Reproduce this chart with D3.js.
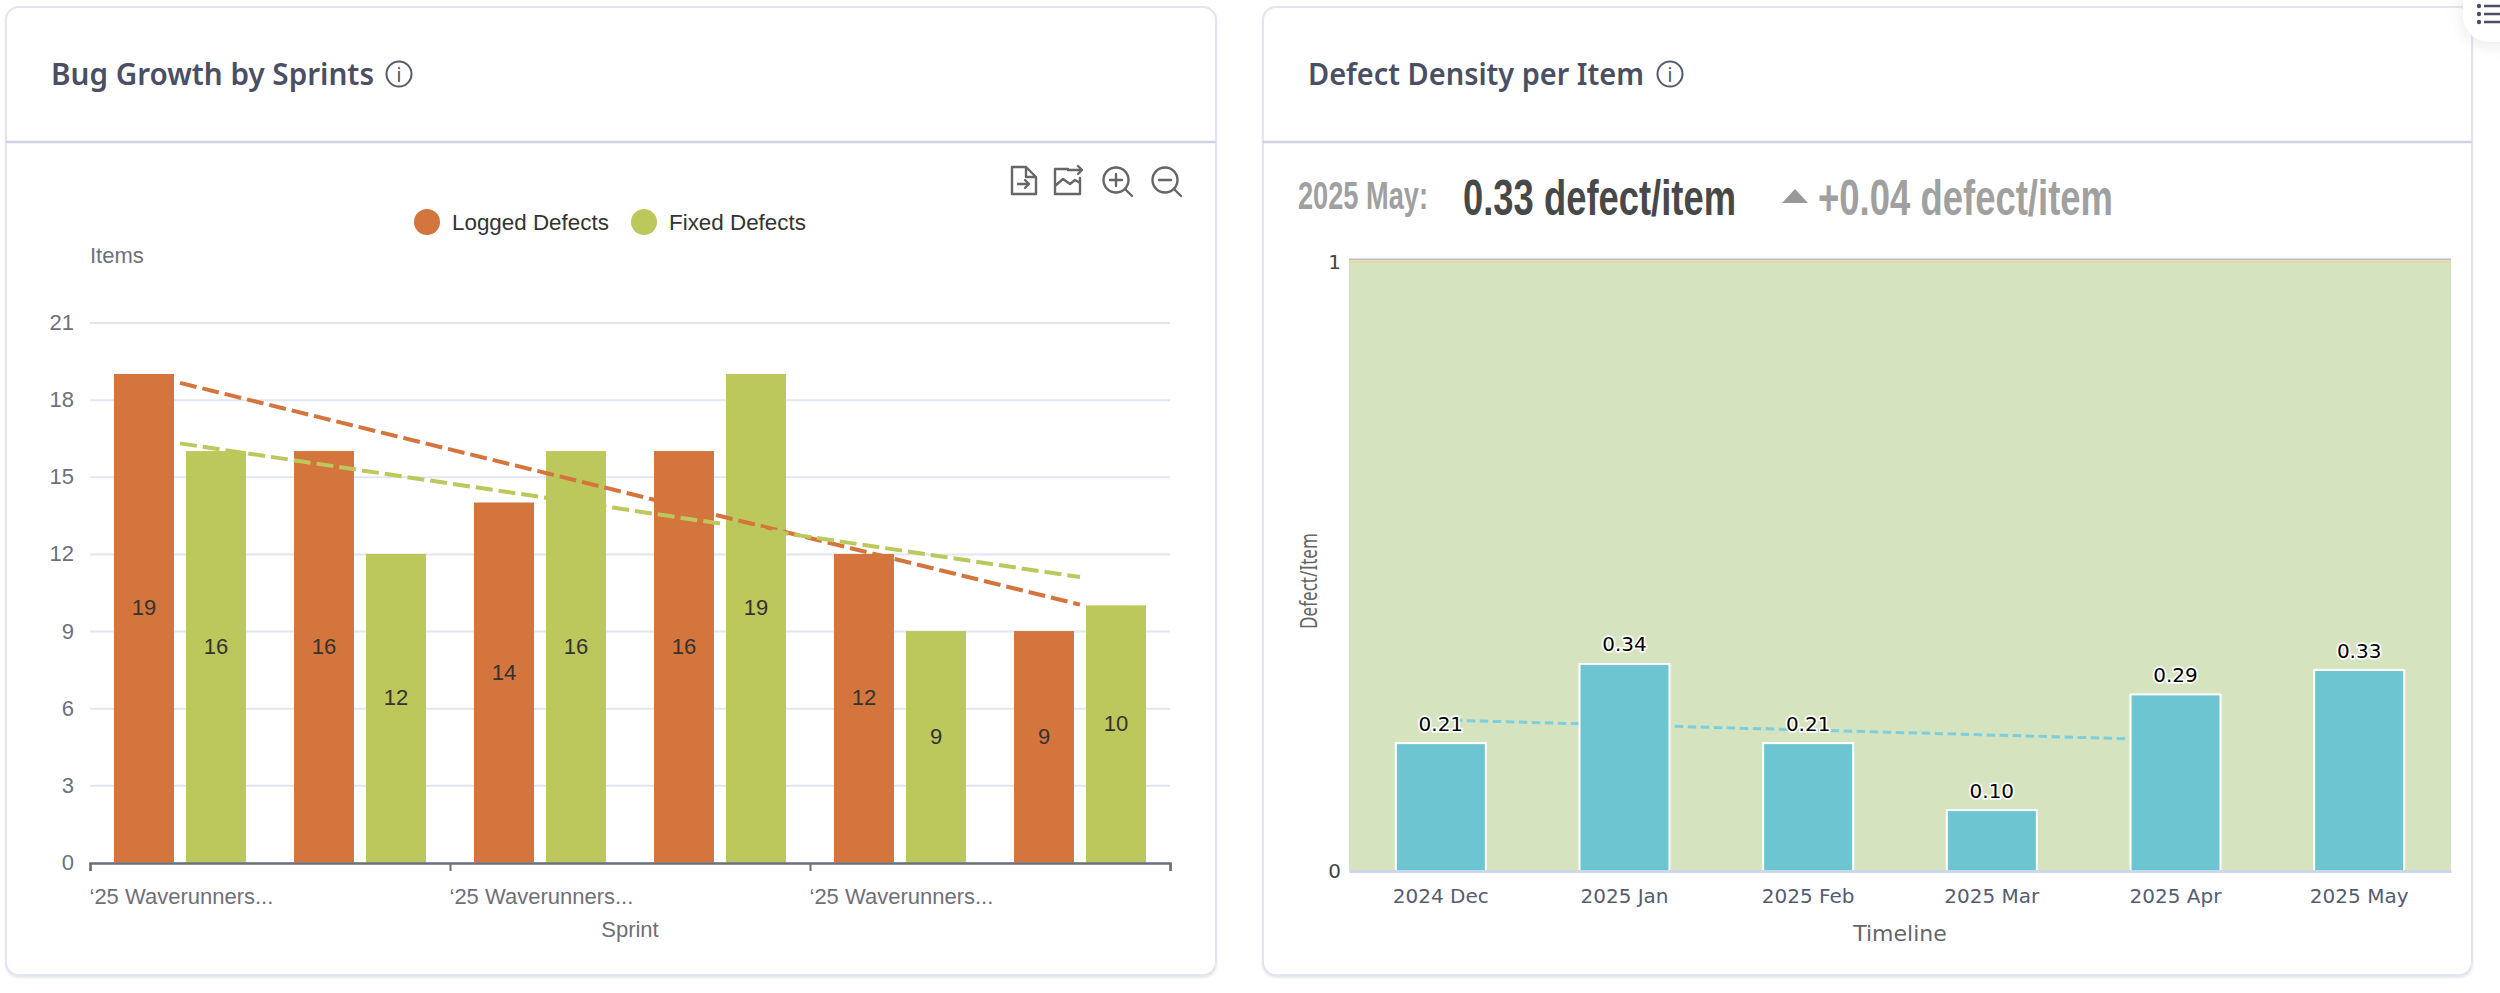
<!DOCTYPE html>
<html>
<head>
<meta charset="utf-8">
<script src="https://cdn.jsdelivr.net/npm/d3@7"></script>
<style>
	html, body { margin: 0; padding: 0; background: #fff; overflow: hidden; }
	svg { display: block; }
	.card { fill: #fff; stroke: #e3e6ee; stroke-width: 2; filter: drop-shadow(0 2px 1px rgba(200,205,220,0.45)); }
	.head { font-family: "Noto Sans", sans-serif; font-weight: 600; fill: #4a4f63; }
	.left-txt { font-family: "Liberation Sans", Arial, sans-serif; }
	.right-txt { font-family: "DejaVu Sans", sans-serif; }
	.narrow { font-family: "Liberation Sans Narrow", "Liberation Sans", sans-serif; }
</style>
</head>
<body>
<div id="container"></div>
<script>
	var WIDTH = 2500;
	var HEIGHT = 993;

	// left chart
	var sprintLabels = ["‘25 Waverunners...", "", "‘25 Waverunners...", "", "‘25 Waverunners...", ""];
	var loggedDefects = [19, 16, 14, 16, 12, 9];
	var fixedDefects = [16, 12, 16, 19, 9, 10];
	var loggedTrend = [18.65, 10.03];
	var fixedTrend = [16.3, 11.1];
	var itemTicks = [0, 3, 6, 9, 12, 15, 18, 21];
	var seriesNames = ["Logged Defects", "Fixed Defects"];

	// right chart
	var months = ["2024 Dec", "2025 Jan", "2025 Feb", "2025 Mar", "2025 Apr", "2025 May"];
	var density = [0.21, 0.34, 0.21, 0.10, 0.29, 0.33];
	var densityTrend = [0.248, 0.215];
	var densityTicks = [0, 1];

	var ORANGE = "#d4753d";
	var GREEN = "#bcc75c";
	var TEAL = "#6dc5d1";

	var svg = d3.select("#container").append("svg")
		.attr("width", WIDTH)
		.attr("height", HEIGHT);

	// ---- cards ----
	var drawCard = function(x, w, title, titleW, infoX){
		svg.append("rect").attr("class", "card")
			.attr("x", x).attr("y", 7).attr("width", w).attr("height", 968).attr("rx", 13);
		svg.append("line")
			.attr("x1", x).attr("x2", x + w).attr("y1", 142).attr("y2", 142)
			.style("stroke", "#cdd3e2").style("stroke-width", 2.5);
		svg.append("text").attr("class", "head")
			.attr("x", x + 45).attr("y", 85)
			.attr("textLength", titleW).attr("lengthAdjust", "spacingAndGlyphs")
			.style("font-size", "30px")
			.text(title);
		svg.append("circle")
			.attr("cx", infoX).attr("cy", 74).attr("r", 12.5)
			.style("fill", "none").style("stroke", "#555a6c").style("stroke-width", 2);
		svg.append("text").attr("class", "head")
			.attr("x", infoX).attr("y", 82).attr("text-anchor", "middle")
			.style("font-size", "19px").style("font-weight", 400)
			.text("i");
	};
	drawCard(6, 1210, "Bug Growth by Sprints", 323, 399);
	drawCard(1263, 1209, "Defect Density per Item", 336, 1670);

	// ---- left chart ----
	var left = svg.append("g").attr("class", "left-txt");
	var yL = d3.scaleLinear().domain([0, 21]).range([862.5, 322.5]);
	var xL = d3.scaleBand().domain(d3.range(sprintLabels.length)).range([90, 1170]);
	var xSeries = d3.scaleBand().domain(seriesNames).range([24, 156]).paddingInner(1 / 6);
	var xTicks = d3.scaleLinear().domain([0, sprintLabels.length]).range([90, 1170]);

	var gridAxis = left.append("g")
		.attr("transform", "translate(90,0)")
		.call(d3.axisLeft(yL).tickValues(itemTicks).tickSize(-1080).tickPadding(16));
	gridAxis.select(".domain").remove();
	gridAxis.selectAll("line").style("stroke", "#e2e6f1").style("stroke-width", 2);
	gridAxis.selectAll("text").style("font-size", "22px").style("fill", "#6e7079")
		.style("font-family", "Liberation Sans").attr("dy", "0.32em");

	var series = [
		{name: seriesNames[0], values: loggedDefects, color: ORANGE},
		{name: seriesNames[1], values: fixedDefects, color: GREEN}
	];
	series.forEach(function(s){
		var g = left.append("g");
		g.selectAll("rect").data(s.values).enter().append("rect")
			.attr("x", function(d, i){ return xL(i) + xSeries(s.name); })
			.attr("y", function(d){ return yL(d); })
			.attr("width", xSeries.bandwidth())
			.attr("height", function(d){ return yL(0) - yL(d); })
			.style("fill", s.color);
	});

	var bottomAxis = left.append("g")
		.attr("transform", "translate(0,863)")
		.call(d3.axisBottom(xTicks)
			.tickValues([0, 2, 4, 6])
			.tickSize(8)
			.tickPadding(17)
			.tickFormat(function(d){ return sprintLabels[d] || ""; }));
	bottomAxis.select(".domain").style("stroke", "#6e7079").style("stroke-width", 2.5);
	bottomAxis.selectAll("line").style("stroke", "#6e7079").style("stroke-width", 2);
	bottomAxis.selectAll("text").style("font-size", "22px").style("fill", "#6e7079")
		.style("font-family", "Liberation Sans").attr("text-anchor", "start").attr("dx", -1);

	// trend lines run between band centres
	var drawTrend = function(parent, scaleX, scaleY, pts, color, width, dash){
		parent.append("path")
			.attr("d", d3.line().x(function(d){ return scaleX(d[0]); }).y(function(d){ return scaleY(d[1]); })(pts))
			.style("fill", "none").style("stroke", color)
			.style("stroke-width", width).style("stroke-dasharray", dash);
	};
	var centerL = function(i){ return xL(i) + xL.bandwidth() / 2; };
	var lastL = sprintLabels.length - 1;
	drawTrend(left, centerL, yL, [[0, loggedTrend[0]], [lastL, loggedTrend[1]]], ORANGE, 4, "17 6");
	drawTrend(left, centerL, yL, [[0, fixedTrend[0]], [lastL, fixedTrend[1]]], GREEN, 4, "17 6");

	series.forEach(function(s){
		left.append("g").selectAll("text").data(s.values).enter().append("text")
			.attr("x", function(d, i){ return xL(i) + xSeries(s.name) + xSeries.bandwidth() / 2; })
			.attr("y", function(d){ return (yL(0) + yL(d)) / 2 - 3; })
			.attr("text-anchor", "middle")
			.style("font-size", "22px").style("fill", "#333")
			.text(function(d){ return d; });
	});

	// legend
	var legendX = [427, 644];
	seriesNames.forEach(function(name, i){
		left.append("circle")
			.attr("cx", legendX[i]).attr("cy", 222).attr("r", 13)
			.style("fill", series[i].color);
		left.append("text")
			.attr("x", legendX[i] + 25).attr("y", 230)
			.style("font-size", "22.4px").style("fill", "#333")
			.text(name);
	});

	left.append("text").attr("x", 90).attr("y", 263)
		.style("font-size", "22px").style("fill", "#6e7079").text("Items");
	left.append("text").attr("x", 630).attr("y", 937).attr("text-anchor", "middle")
		.style("font-size", "22px").style("fill", "#6e7079").text("Sprint");

	// toolbox icons
	var tools = svg.append("g")
		.style("fill", "none").style("stroke", "#666").style("stroke-width", 2.4)
		.style("stroke-linecap", "round").style("stroke-linejoin", "round");
	tools.append("path").attr("d", "M1012 167h14l10 10v17h-24z M1026 167v10h10 M1018 184h11 M1025 180l4 4l-4 4");
	tools.append("path").attr("d", "M1080 178v16h-25v-25h13 M1055 186l8-7l7 5l5-4l5 3 M1068 170h14 M1078 166l4 4l-4 4");
	tools.append("circle").attr("cx", 1116).attr("cy", 180).attr("r", 12.5);
	tools.append("path").attr("d", "M1110 180h12 M1116 174v12 M1125 189l7 7");
	tools.append("circle").attr("cx", 1165).attr("cy", 180).attr("r", 12.5);
	tools.append("path").attr("d", "M1159 180h12 M1174 189l7 7");

	// ---- right chart ----
	var right = svg.append("g").attr("class", "right-txt");
	var yR = d3.scaleLinear().domain([0, 1]).range([871, 262]);
	var xR = d3.scaleBand().domain(months).range([1349, 2451]).paddingInner(0.51).paddingOuter(0.255);

	right.append("rect")
		.attr("x", 1349).attr("y", yR(1))
		.attr("width", 1102).attr("height", yR(0) - yR(1))
		.style("fill", "#d6e3bf");
	right.append("line").attr("x1", 1349).attr("x2", 2451).attr("y1", yR(1) - 2.5).attr("y2", yR(1) - 2.5)
		.style("stroke", "#bcbcbc").style("stroke-width", 2);
	right.append("line").attr("x1", 1349).attr("x2", 2451).attr("y1", yR(1)).attr("y2", yR(1))
		.style("stroke", "#e3d9a0").style("stroke-width", 2);

	var centerR = function(i){ return xR(months[i]) + xR.bandwidth() / 2; };
	drawTrend(right, centerR, yR, [[0, densityTrend[0]], [4, densityTrend[1]]], "#7bcfdf", 3, "8.5 4.5");

	right.append("g").selectAll("rect").data(density).enter().append("rect")
		.attr("x", function(d, i){ return xR(months[i]); })
		.attr("y", function(d){ return yR(d); })
		.attr("width", xR.bandwidth())
		.attr("height", function(d){ return yR(0) - yR(d); })
		.style("fill", TEAL).style("stroke", "#fff").style("stroke-width", 2);

	right.append("g").selectAll("text").data(density).enter().append("text")
		.attr("x", function(d, i){ return centerR(i); })
		.attr("y", function(d){ return yR(d) - 12.5; })
		.attr("text-anchor", "middle")
		.style("font-size", "20px").style("fill", "#000")
		.style("stroke", "#fff").style("stroke-width", 3.5).style("paint-order", "stroke")
		.style("stroke-linejoin", "round")
		.text(function(d){ return d.toFixed(2); });

	var axisR = right.append("g")
		.attr("transform", "translate(0,871)")
		.call(d3.axisBottom(xR).tickSize(0).tickPadding(18));
	axisR.select(".domain").style("stroke", "#ccd6eb").style("stroke-width", 3);
	axisR.selectAll("text").style("font-size", "20px").style("fill", "#555c70")
		.style("font-family", "DejaVu Sans");

	var axisRY = right.append("g")
		.attr("transform", "translate(1349,0)")
		.call(d3.axisLeft(yR).tickValues(densityTicks).tickSize(0).tickPadding(8).tickFormat(d3.format("d")));
	axisRY.select(".domain").remove();
	axisRY.selectAll("text").style("font-size", "20px").style("fill", "#444")
		.style("font-family", "DejaVu Sans");

	right.append("text").attr("x", 1900).attr("y", 941).attr("text-anchor", "middle")
		.style("font-size", "22px").style("fill", "#666").text("Timeline");
	right.append("text")
		.attr("transform", "translate(1317,581) rotate(-90)")
		.attr("text-anchor", "middle")
		.attr("textLength", 96).attr("lengthAdjust", "spacingAndGlyphs")
		.style("font-family", "Noto Sans")
		.style("font-size", "23px").style("fill", "#666").text("Defect/Item");

	// summary line above the chart
	var summary = svg.append("g").attr("class", "narrow");
	summary.append("text").attr("x", 1298).attr("y", 209)
		.attr("textLength", 130).attr("lengthAdjust", "spacingAndGlyphs")
		.style("font-size", "38px").style("font-weight", 700).style("fill", "#a0a0a0")
		.text("2025 May:");
	summary.append("text").attr("x", 1463).attr("y", 214.5)
		.attr("textLength", 273).attr("lengthAdjust", "spacingAndGlyphs")
		.style("font-size", "50px").style("font-weight", 700).style("fill", "#484848")
		.text("0.33 defect/item");
	summary.append("path").attr("d", "M1782 203L1795 189L1808 203Z").style("fill", "#999");
	summary.append("text").attr("x", 1818).attr("y", 214.5)
		.attr("textLength", 295).attr("lengthAdjust", "spacingAndGlyphs")
		.style("font-size", "50px").style("font-weight", 700).style("fill", "#a0a0a0")
		.text("+0.04 defect/item");

	// floating menu button in the corner
	var menu = svg.append("g");
	menu.append("rect")
		.attr("x", 2463).attr("y", -40).attr("width", 90).attr("height", 82).attr("rx", 26)
		.style("fill", "#fff").style("filter", "drop-shadow(0 3px 8px rgba(120,125,140,0.18))");
	[6, 14, 22].forEach(function(y){
		menu.append("circle").attr("cx", 2479).attr("cy", y).attr("r", 2.2).style("fill", "#4a4f63");
		menu.append("line").attr("x1", 2484).attr("x2", 2500).attr("y1", y).attr("y2", y)
			.style("stroke", "#4a4f63").style("stroke-width", 2.5);
	});
</script>
</body>
</html>
